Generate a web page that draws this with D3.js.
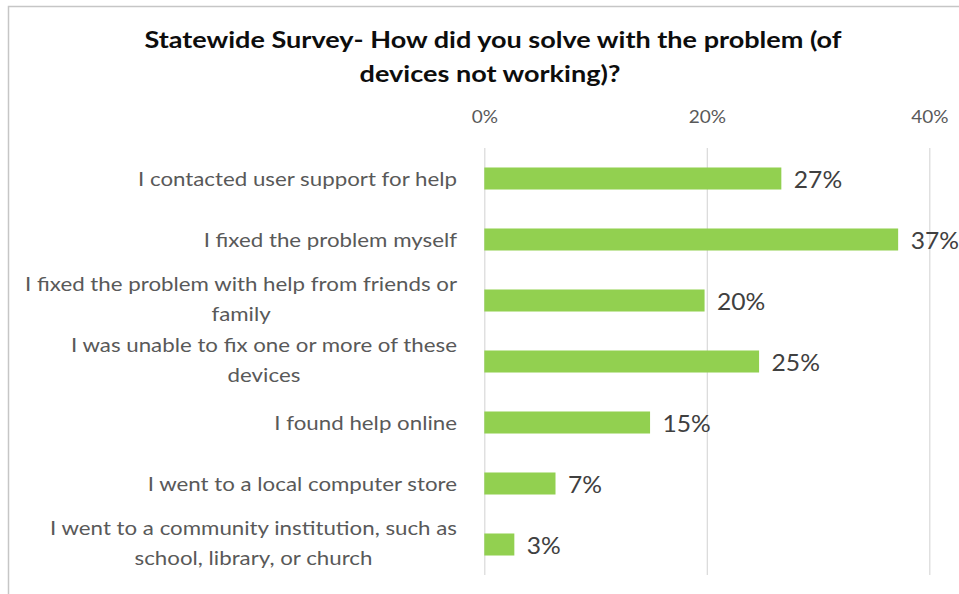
<!DOCTYPE html>
<html><head><meta charset="utf-8">
<script src="https://cdn.jsdelivr.net/npm/d3@7"></script>
<style>
body{margin:0;background:#fff}
svg{display:block}
text{font-family:Lato,"Open Sans",sans-serif}
</style>
</head><body>
<svg id="chart" width="959" height="594"></svg>
<script>
// ---- data ----
const titleLines = ["Statewide Survey- How did you solve with the problem (of", "devices not working)?"];
const categories = [
  "I contacted user support for help",
  "I fixed the problem myself",
  "I fixed the problem with help from friends or\nfamily",
  "I was unable to fix one or more of these\ndevices",
  "I found help online",
  "I went to a local computer store",
  "I went to a community institution, such as\nschool, library, or church"
];
const values = [26.7, 37.2, 19.8, 24.7, 14.9, 6.4, 2.7];
const valueLabels = ["27%", "37%", "20%", "25%", "15%", "7%", "3%"];
const tickValues = [0, 20, 40];
const tickLabels = ["0%", "20%", "40%"];

// ---- layout ----
const svg = d3.select("#chart");
const plotTop = 148, plotBottom = 575, x0 = 484.3, x40 = 929.3;
const labelRight = 457;

function fitGroup(sel, refNode, target) {
  const k = target / refNode.getComputedTextLength();
  sel.each(function () {
    const w = this.getComputedTextLength();
    d3.select(this).attr("textLength", w * k).attr("lengthAdjust", "spacingAndGlyphs");
  });
  return k;
}

// border
svg.append("path")
  .attr("d", "M8.5,594 L8.5,6.5 L959,6.5")
  .attr("fill", "none").attr("stroke", "#c6c6c6").attr("stroke-width", 1.5);

const x = d3.scaleLinear().domain([0, 40]).range([x0, x40]);
const y = d3.scaleBand().domain(categories).range([plotTop, plotBottom])
  .paddingInner(0.639).paddingOuter(0.3195);

// axis + gridlines
const axis = svg.append("g").attr("transform", `translate(0,${plotTop})`)
  .call(d3.axisTop(x).tickValues(tickValues).tickFormat((d, i) => tickLabels[i])
    .tickSize(-(plotBottom - plotTop)).tickPadding(24.7));
axis.select(".domain").remove();
axis.selectAll(".tick line").attr("stroke", "#d9d9d9").attr("stroke-width", 1.2);
const tickText = axis.selectAll(".tick text")
  .attr("font-family", "Lato, sans-serif").attr("font-size", 17).attr("fill", "#595959");
fitGroup(tickText, tickText.nodes()[1], 37.3);

// bars
svg.append("g").selectAll("rect").data(categories).join("rect")
  .attr("x", x(0))
  .attr("y", d => y(d))
  .attr("width", (d, i) => x(values[i]) - x(0))
  .attr("height", y.bandwidth())
  .attr("fill", "#92d050");

// value labels
const vl = svg.append("g").selectAll("text").data(categories).join("text")
  .attr("x", (d, i) => x(values[i]) + 12.5)
  .attr("y", d => y(d) + y.bandwidth() / 2 + 9.5)
  .attr("font-size", 23).attr("fill", "#404040")
  .text((d, i) => valueLabels[i]);
fitGroup(vl, vl.nodes()[0], 48.3);

// category labels: block right-aligned, lines centred within the block
const catG = svg.append("g");
const groups = categories.map(c => {
  const lines = c.split("\n");
  const cy = y(c) + y.bandwidth() / 2;
  const n = lines.length;
  return lines.map((ln, j) => catG.append("text")
    .attr("y", n === 1 ? cy + 7 : cy - 9.5 + j * 30)
    .attr("font-size", 20).attr("fill", "#595959")
    .attr("text-anchor", "middle").text(ln).node());
});
const allLines = groups.flat();
fitGroup(d3.selectAll(allLines), allLines[0], 319);
groups.forEach(group => {
  const maxW = d3.max(group, nd => +nd.getAttribute("textLength"));
  group.forEach(nd => nd.setAttribute("x", labelRight - maxW / 2));
});

// title
const tt = svg.append("g").selectAll("text").data(titleLines).join("text")
  .attr("x", (d, i) => i === 0 ? 493 : 490)
  .attr("y", (d, i) => i === 0 ? 47.5 : 81.5)
  .attr("text-anchor", "middle")
  .attr("font-size", 22).attr("font-weight", "bold").attr("fill", "#0d0d0d")
  .text(d => d);
fitGroup(tt, tt.nodes()[0], 697);
</script>
</body></html>
